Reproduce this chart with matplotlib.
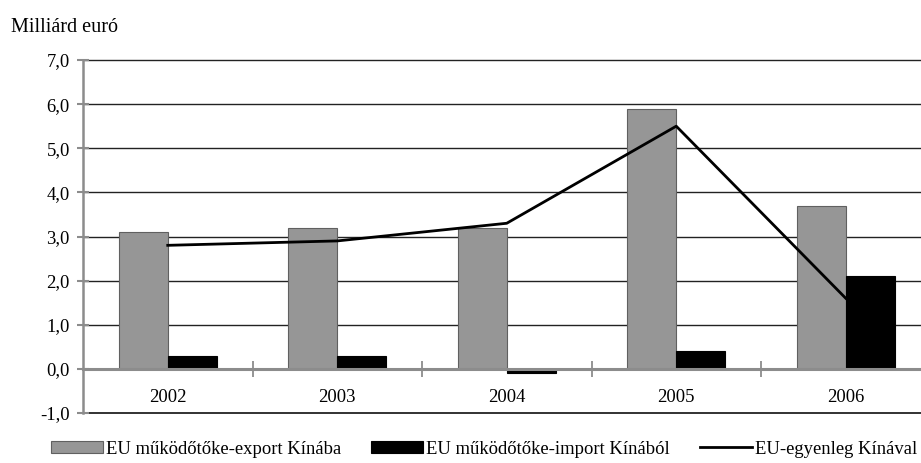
import matplotlib
matplotlib.use("Agg")
import matplotlib.pyplot as plt
import numpy as np
from matplotlib.ticker import FixedLocator

years = ["2002", "2003", "2004", "2005", "2006"]
export_vals = [3.1, 3.2, 3.2, 5.9, 3.7]
import_vals = [0.3, 0.3, -0.1, 0.4, 2.1]
balance_vals = [2.8, 2.9, 3.3, 5.5, 1.6]
y_ticks = [-1, 0, 1, 2, 3, 4, 5, 6, 7]
y_labels = ["-1,0", "0,0", "1,0", "2,0", "3,0", "4,0", "5,0", "6,0", "7,0"]
labels = ["EU működőtőke-export Kínába", "EU működőtőke-import Kínából", "EU-egyenleg Kínával"]

plt.rcParams['font.family'] = ['Liberation Serif', 'DejaVu Serif']
FS = 13.4

W, H = 921, 463
fig = plt.figure(figsize=(W/100, H/100), dpi=100)
ax = fig.add_axes([83/W, 50/H, 847.5/W, 353/H])

x = np.arange(len(years))
bw = 0.29
ax.set_xlim(-0.5, 4.5)
ax.set_ylim(-1, 7)

for yv in y_ticks:
    if yv != 0:
        ax.axhline(yv, color='#222222', lw=1.0 if yv != -1 else 1.3, zorder=1, clip_on=False)

b1 = ax.bar(x - bw/2, export_vals, bw, color='#969696', edgecolor='#606060', lw=0.8, zorder=2, label=labels[0])
b2 = ax.bar(x + bw/2, import_vals, bw, color='black', edgecolor='black', lw=0.8, zorder=2, label=labels[1])
l1, = ax.plot(x, balance_vals, color='black', lw=2, zorder=4, label=labels[2])

for s in ['top', 'right']:
    ax.spines[s].set_visible(False)
ax.spines['bottom'].set_position(('data', 0))
ax.spines['bottom'].set_color('#8c8c8c')
ax.spines['bottom'].set_linewidth(2.2)
ax.spines['bottom'].set_zorder(3)
ax.spines['left'].set_color('#8c8c8c')
ax.spines['left'].set_linewidth(1.8)
ax.spines['left'].set_zorder(3)

ax.set_yticks(y_ticks)
ax.set_yticklabels(y_labels, fontsize=FS)
ax.tick_params(axis='y', direction='inout', length=9, width=1.5, color='#8c8c8c', pad=5)

ax.set_xticks(x)
ax.set_xticklabels(years, fontsize=FS)
ax.xaxis.set_minor_locator(FixedLocator([0.5, 1.5, 2.5, 3.5]))
ax.tick_params(axis='x', which='major', length=0, pad=14.5)
ax.tick_params(axis='x', which='minor', direction='inout', length=12, width=1.3, color='#8c8c8c')

fig.text(11/W, 1 - 28/H, "Milliárd euró", fontsize=14.5, va='center', ha='left')

fig.legend(handles=[b1, b2, l1], labels=labels, loc='center', bbox_to_anchor=(484/W, 14/H),
           ncol=3, frameon=False, fontsize=FS, handlelength=2.8, handleheight=0.6,
           handletextpad=0.15, columnspacing=1.6, borderpad=0.2)

fig.savefig("out.png", dpi=100)
